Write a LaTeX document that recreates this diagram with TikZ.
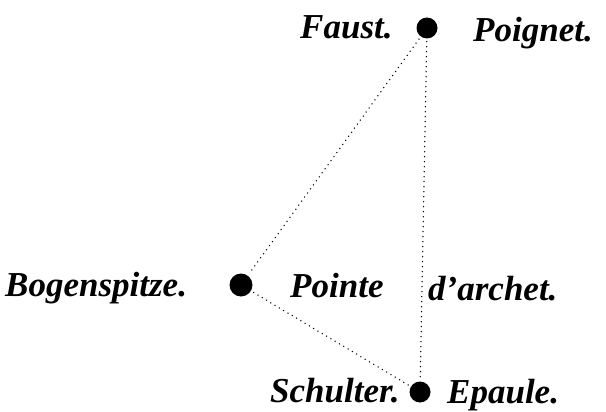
\documentclass[tikz,border=0pt]{standalone}
\usepackage{fontspec}
\setmainfont{Liberation Serif}
\begin{document}
\begin{tikzpicture}[x=1pt,y=-1pt,
  lab/.style={anchor=base west,inner sep=0pt,font=\fontsize{35}{38}\selectfont\bfseries\itshape},
  pt/.style={circle,fill=black,inner sep=0pt,minimum size=#1},
  conn/.style={line width=1.5pt,dash pattern=on 0pt off 5pt,line cap=round}]
\useasboundingbox (0,0) rectangle (606,412);
\node[pt=21pt] (faust) at (427,28) {};
\node[pt=23pt] (bogen) at (241,285) {};
\node[pt=21pt] (schul) at (420,392) {};
\draw[conn,shorten <=3pt,shorten >=3pt] (faust) -- (bogen);
\draw[conn,shorten <=3pt,shorten >=3pt] (bogen) -- (schul);
\draw[conn,shorten <=3pt,shorten >=3pt] (faust) -- (schul);
\node[lab] (t1) at (300,39) {Faust.};
\node[lab] (t2) at (473,42) {Poignet.};
\node[lab] (t3) at (5,296) {Bogenspitze.};
\node[lab] (t4) at (290,297) {Pointe};
\node[lab] (t5) at (428,300) {d'archet.};
\node[lab] (t6) at (270,402) {Schulter.};
\node[lab] (t7) at (447,403) {Epaule.};
\end{tikzpicture}
\end{document}
